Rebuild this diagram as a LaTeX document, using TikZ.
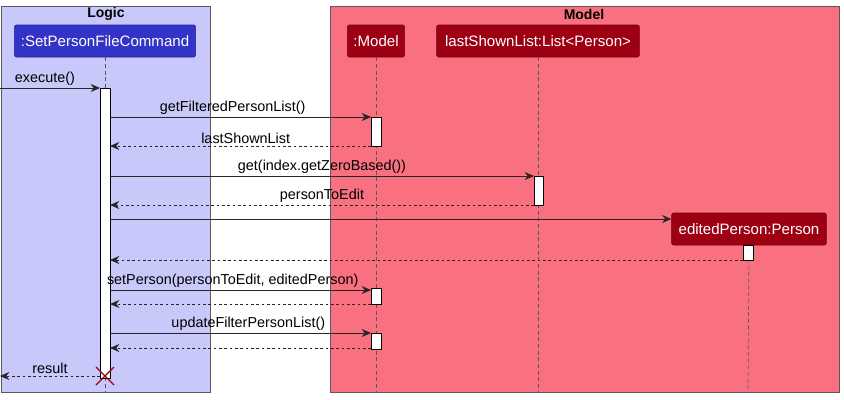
\documentclass[tikz,border=0pt]{standalone}
\usepackage{fontspec}
\setmainfont{Liberation Sans}
\usetikzlibrary{arrows.meta}
\definecolor{logicbg}{HTML}{C8C8FA}
\definecolor{logicpt}{HTML}{3333C8}
\definecolor{modelbg}{HTML}{F97181}
\definecolor{modelpt}{HTML}{9D0012}
\begin{document}
\begin{tikzpicture}[x=0.75pt,y=-0.75pt,
  font=\fontsize{10.8}{12}\selectfont,
  grp/.style={draw=gray!70!black,line width=0.6pt},
  part/.style={rounded corners=1.5pt,text=white,font=\fontsize{11.3}{13}\selectfont,inner sep=0pt,minimum height=24pt,anchor=center},
  life/.style={draw=gray!70!black,dashed,dash pattern=on 3pt off 2pt,line width=0.5pt},
  act/.style={draw=black,fill=white,line width=0.6pt},
  msg/.style={-{Stealth[length=7pt,width=6pt]},line width=0.7pt,draw=black!85},
  ret/.style={msg,dashed,dash pattern=on 2pt off 2pt},
  lbl/.style={above=0pt,inner sep=1.5pt}]
\useasboundingbox (0,0) rectangle (844,400);
\fill[logicbg] (1,6) rectangle (210,392); \draw[grp] (1,6) rectangle (210,392);
\fill[modelbg] (330,6) rectangle (839,392); \draw[grp] (330,6) rectangle (839,392);
\node[font=\bfseries\fontsize{10.5}{12}\selectfont] (lg) at (106,14) {Logic};
\node[font=\bfseries\fontsize{10.5}{12}\selectfont] (mg) at (584,14) {Model};
\node[part,fill=logicpt,draw=logicpt!70!black,minimum width=136pt] (c) at (105,41) {:SetPersonFileCommand};
\node[part,fill=modelpt,draw=modelpt!70!black,minimum width=43pt] (m) at (376,41) {:Model};
\node[part,fill=modelpt,draw=modelpt!70!black,minimum width=152pt] (l) at (538,41) {lastShownList:List<Person>};
\node[part,fill=modelpt,draw=modelpt!70!black,minimum width=116pt] (e) at (749,229) {editedPerson:Person};
\coordinate (cb) at (105,392); \coordinate (mb) at (376,392); \coordinate (lb) at (538,392); \coordinate (eb) at (748,392);
\draw[life] (c.south) -- (cb); \draw[life] (m.south) -- (mb); \draw[life] (l.south) -- (lb); \draw[life] (e.south) -- (eb);
\draw[act] (100,88) rectangle (110,378);
\draw[act] (371,117) rectangle (381,146);
\draw[act] (534,176) rectangle (543,205);
\draw[act] (743,245) rectangle (753,260);
\draw[act] (371,288) rectangle (381,304);
\draw[act] (371,333) rectangle (381,349);
\coordinate (s0) at (0,88); \coordinate (t0) at (100,88);
\draw[msg] (s0) -- node[lbl,pos=0.45]{execute()} (t0);
\draw[msg] (110,117) -- node[lbl,pos=0.47]{getFilteredPersonList()} (371,117);
\draw[ret] (371,146) -- node[lbl,pos=0.48]{lastShownList} (110,146);
\draw[msg] (110,176) -- node[lbl]{get(index.getZeroBased())} (534,176);
\draw[ret] (534,205) -- node[lbl]{personToEdit} (110,205);
\draw[msg] (110,219) -- (e.west |- 110,219);
\draw[ret] (743,260) -- (110,260);
\draw[msg] (110,290) -- node[lbl,pos=0.47]{setPerson(personToEdit, editedPerson)} (371,290);
\draw[ret] (371,304) -- (110,304);
\draw[msg] (110,333) -- node[lbl,pos=0.53]{updateFilterPersonList()} (371,333);
\draw[ret] (371,348) -- (110,348);
\draw[ret] (100,376) -- node[lbl]{result} (0,376);
\draw[modelpt,line width=1pt] (96,367) -- (114,385) (96,385) -- (114,367);
\end{tikzpicture}
\end{document}
